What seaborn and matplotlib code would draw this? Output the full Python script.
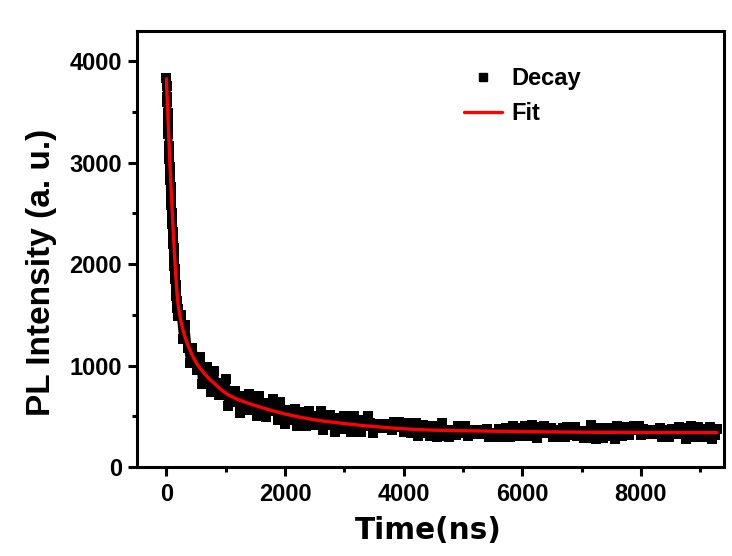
import numpy as np
import pandas as pd
import matplotlib
matplotlib.use("Agg")
import matplotlib.pyplot as plt
from matplotlib.lines import Line2D
from matplotlib.ticker import MultipleLocator
import seaborn as sns

# ---------------- data ----------------
# early, densely sampled part of the decay, one channel every 5 ns (0-200 ns)
decay_time_early = list(range(0, 201, 5))
decay_early = [3840, 3760, 3650, 3600, 3490, 3430, 3330, 3280, 3170, 3120,
               3040, 2960, 2900, 2830, 2760, 2700, 2620, 2580, 2500, 2440,
               2400, 2320, 2270, 2200, 2160, 2090, 2050, 1980, 1950, 1880,
               1850, 1790, 1760, 1710, 1690, 1640, 1620, 1570, 1560, 1500,
               1490]

# rest of the decay, one channel every 40 ns from 240 ns to 9280 ns
decay_time_late = list(range(240, 9281, 40))
decay_late = [
    # 240 - 1000
    1495, 1260, 1405, 1175, 1030, 1175, 1070, 952, 1085, 815,
    952, 985, 825, 743, 948, 806, 710, 825, 730, 870,
    # 1040 - 2000
    602, 721, 636, 752, 643, 535, 702, 657, 561, 716,
    583, 612, 504, 697, 528, 621, 489, 632, 550, 675,
    582, 463, 645, 501, 420,
    # 2040 - 3480
    565, 520, 465, 570, 406, 511, 547, 453, 409, 555,
    471, 417, 503, 449, 551, 368, 475, 413, 510, 427,
    344, 481, 448, 375, 503, 400, 428, 345, 503, 370,
    448, 346, 463, 401, 504, 432, 340,
    # 3520 - 9280
    384, 410, 422, 382, 394, 384, 421, 363, 448, 413,
    440, 399, 349, 432, 393, 336, 398, 435, 308, 335,
    415, 350, 404, 309, 406, 357, 297, 310, 432, 368,
    311, 300, 369, 326, 316, 406, 357, 333, 409, 310,
    369, 343, 329, 365, 352, 357, 321, 374, 291, 324,
    298, 332, 378, 300, 335, 387, 328, 291, 409, 383,
    307, 365, 313, 401, 309, 355, 410, 397, 282, 340,
    393, 402, 336, 375, 385, 300, 345, 368, 296, 387,
    298, 397, 319, 344, 392, 301, 311, 353, 282, 293,
    349, 412, 289, 276, 335, 384, 286, 381, 324, 388,
    307, 278, 404, 366, 302, 359, 397, 313, 362, 401,
    373, 407, 320, 376, 337, 345, 329, 368, 354, 326,
    382, 291, 363, 340, 294, 379, 369, 330, 395, 386,
    333, 274, 388, 401, 346, 300, 391, 303, 355, 297,
    372, 398, 280, 316, 375,
]

fit_time = [0, 20, 40, 60, 80, 100, 120, 140, 160, 180,
            200, 240, 280, 320, 360, 400, 450, 500, 560, 640,
            720, 800, 880, 960, 1040, 1120, 1200, 1300, 1400, 1500,
            1600, 1800, 2000, 2200, 2400, 2600, 2800, 3000, 3300, 3600,
            3900, 4200, 4500, 5000, 5500, 6000, 6500, 7000, 8000, 9280]
fit_values = [3830, 3540, 3260, 2990, 2740, 2500, 2270, 2060, 1870, 1710,
              1590, 1450, 1350, 1270, 1205, 1150, 1085, 1030, 980, 922,
              870, 828, 785, 745, 712, 688, 667, 645, 625, 605,
              587, 552, 522, 497, 475, 456, 442, 428, 409, 394,
              380, 370, 363, 357, 353, 349, 346, 343, 340, 339]

x_ticks = [0, 2000, 4000, 6000, 8000]
y_ticks = [0, 1000, 2000, 3000, 4000]
legend_labels = ["Decay", "Fit"]

decay_df = pd.DataFrame({
    "time": decay_time_early + decay_time_late,
    "intensity": decay_early + decay_late,
})
fit_df = pd.DataFrame({"time": fit_time, "intensity": fit_values})

# ---------------- style ----------------
sns.set_style("ticks")
plt.rcParams["font.family"] = ["Liberation Sans", "Noto Sans CJK SC", "DejaVu Sans"]
plt.rcParams["font.weight"] = "bold"
for key in ["text.color", "axes.labelcolor", "xtick.color", "ytick.color",
            "axes.edgecolor"]:
    plt.rcParams[key] = "black"

fig = plt.figure(figsize=(7.32, 5.56), dpi=100, facecolor="white")
ax = fig.add_axes([0.1868, 0.1601, 0.8023, 0.7842])
ax.set_facecolor("white")

# dense decay channels: connect them and put a square on every channel
sns.lineplot(data=decay_df, x="time", y="intensity", ax=ax, color="black",
             linewidth=5.5, estimator=None, sort=False, legend=False,
             zorder=2)
sns.scatterplot(data=decay_df, x="time", y="intensity", ax=ax, color="black",
                marker="s", s=42, linewidth=0, legend=False, zorder=2)
sns.lineplot(data=fit_df, x="time", y="intensity", ax=ax, color="#ff0000",
             linewidth=2.4, estimator=None, sort=False, legend=False, zorder=3)

ax.set_xlim(-500, 9400)
ax.set_ylim(0, 4300)
ax.set_xticks(x_ticks)
ax.set_yticks(y_ticks)
ax.xaxis.set_minor_locator(MultipleLocator(1000))
ax.yaxis.set_minor_locator(MultipleLocator(500))

for sp in ax.spines.values():
    sp.set_linewidth(2.2)
    sp.set_color("black")
    sp.set_visible(True)

ax.tick_params(axis="both", which="major", direction="out", length=6.5,
               width=2.2, labelsize=17, color="black", labelcolor="black")
ax.tick_params(axis="both", which="minor", direction="out", length=3.5,
               width=2.2, color="black")
ax.tick_params(axis="x", which="major", pad=5)
ax.tick_params(axis="y", which="major", pad=4)
for lab in ax.get_xticklabels() + ax.get_yticklabels():
    lab.set_fontweight("bold")

ax.set_xlabel("Time(ns)", fontsize=21.3, fontweight="bold", color="black",
              family=["DejaVu Sans"])
ax.set_ylabel("PL Intensity (a. u.)", fontsize=24, fontweight="bold", color="black")
ax.xaxis.set_label_coords(0.496, -0.112)
ax.yaxis.set_label_coords(-0.135, 0.447)

handles = [
    Line2D([], [], color="black", marker="s", linestyle="None", markersize=6),
    Line2D([], [], color="#ff0000", linewidth=2.4),
]
leg = ax.legend(handles, legend_labels, loc="upper left",
                bbox_to_anchor=(0.557, 0.917), frameon=False,
                prop={"size": 17, "weight": "bold"}, handlelength=1.61,
                handletextpad=0.4, labelspacing=0.5, borderpad=0,
                borderaxespad=0)
for txt in leg.get_texts():
    txt.set_color("black")

fig.savefig("out.png", dpi=100, facecolor="white")
